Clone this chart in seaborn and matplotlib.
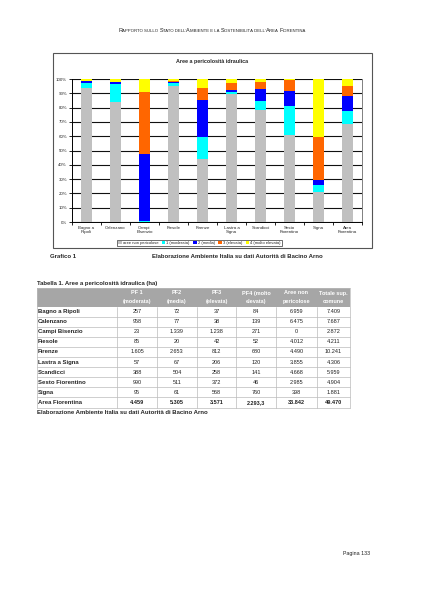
import numpy as np
import pandas as pd
import matplotlib
matplotlib.use("Agg")
import matplotlib.pyplot as plt
import seaborn as sns
from matplotlib.patches import Rectangle, Patch
from matplotlib.lines import Line2D

# ---------------- data ----------------
comuni = ["Bagno a Ripoli", "Calenzano", "Campi Bisenzio", "Fiesole", "Firenze",
          "Lastra a Signa", "Scandicci", "Sesto Fiorentino", "Signa", "Area Fiorentina"]
chart_labels = ["Bagno a\nRipoli", "Calenzano", "Campi\nBisenzio", "Fiesole", "Firenze",
                "Lastra a\nSigna", "Scandicci", "Sesto\nFiorentino", "Signa", "Area\nFiorentina"]
pf1 = [257, 958, 23, 85, 1605, 57, 388, 990, 95, 4459]
pf2 = [72, 77, 1339, 20, 2653, 67, 504, 511, 61, 5305]
pf3 = [37, 38, 1238, 42, 812, 206, 258, 372, 568, 3571]
pf4 = [84, 139, 271, 52, 680, 120, 141, 46, 760, 2293.3]
non_pericolose = [6959, 6475, 0, 4012, 4490, 3855, 4668, 2985, 398, 33842]
totale = [7409, 7687, 2872, 4211, 10241, 4306, 5959, 4904, 1881, 49470]

legend_labels = ["aree non pericolose", "1 (moderata)", "2 (media)", "3 (elevata)", "4 (molto elevata)"]
layer_colors = ["#C0C0C0", "#00FFFF", "#0000FF", "#FF6600", "#FFFF00"]
yticks = [0, 10, 20, 30, 40, 50, 60, 70, 80, 90, 100]
ytick_labels = [f"{v}%" for v in yticks]

table_headers = [("PF 1", "(moderata)"), ("PF2", "(media)"), ("PF3", "(elevata)"),
                 ("PF4 (molto", "elevata)"), ("Aree non", "pericolose"), ("Totale sup.", "comune")]

header_text = "Rapporto sullo Stato dell'Ambiente e la Sostenibilità dell'Area Fiorentina"
chart_title = "Aree a pericolosità idraulica"
source_text = "Elaborazione Ambiente Italia su dati Autorità di Bacino Arno"
table_title = "Tabella 1. Aree a pericolosità idraulica (ha)"

# ---------------- figure ----------------
W, H = 424, 599
sns.set_style("white")
plt.rcParams["font.family"] = ["Liberation Sans", "DejaVu Sans"]
fig = plt.figure(figsize=(W / 100, H / 100), dpi=100)
fig.patch.set_facecolor("white")


def fbox(x0, y0, x1, y1):
    return [x0 / W, 1 - y1 / H, (x1 - x0) / W, (y1 - y0) / H]


# overlay for page text / table
ov = fig.add_axes([0, 0, 1, 1])
ov.set_xlim(0, W)
ov.set_ylim(H, 0)
ov.axis("off")

# page header in small caps
renderer = fig.canvas.get_renderer()
segs = []
for ch in header_text:
    big = ch.isupper()
    s = ch.upper()
    if segs and segs[-1][1] == big:
        segs[-1][0] += s
    else:
        segs.append([s, big])
big_fs, small_fs = 4.0, 3.1
pieces = []
total_w = 0
for s, big in segs:
    t = ov.text(0, 32.5, s, ha="left", va="baseline", fontsize=big_fs if big else small_fs,
                color="#222222")
    bb = t.get_window_extent(renderer)
    w = bb.width  # pixels == data units here
    pieces.append((t, w))
    total_w += w
x = 212 - total_w / 2
for t, w in pieces:
    t.set_x(x)
    x += w

# chart frame
ov.add_patch(Rectangle((52.5, 52.5), 319.5, 195, fill=False, edgecolor="#555555", lw=0.8))
ov.text(212, 62, chart_title, ha="center", va="center", fontsize=3.9, fontweight="bold")

# ---------------- chart ----------------
layers = [non_pericolose, pf1, pf2, pf3, pf4]
tot = np.sum(np.array(layers, dtype=float), axis=0)
perc = [np.array(l, dtype=float) / tot * 100 for l in layers]
cum = np.cumsum(perc, axis=0)

ax = fig.add_axes(fbox(72, 79, 362, 222))
df = pd.DataFrame({"comune": chart_labels})
for i in range(4, -1, -1):
    df["v"] = cum[i]
    sns.barplot(data=df, x="comune", y="v", order=chart_labels, color=layer_colors[i],
                saturation=1, width=0.4, ax=ax, edgecolor="none", linewidth=0, zorder=3)

ax.set_ylim(0, 100)
ax.set_xlim(-0.5, 9.5)
ax.set_yticks(yticks)
ax.set_yticklabels(ytick_labels, fontsize=3.2)
ax.set_xticks(range(10))
ax.set_xticklabels(chart_labels, fontsize=3.2, linespacing=1.0)
ax.set_xticks(np.arange(-0.5, 10, 1), minor=True)
ax.tick_params(axis="x", which="major", length=0, pad=3)
ax.tick_params(axis="x", which="minor", length=2.5, width=0.6, direction="out", color="black", bottom=True)
ax.tick_params(axis="y", length=2.5, width=0.6, direction="out", color="black", left=True, pad=1)
ax.set_xlabel("")
ax.set_ylabel("")
ax.yaxis.grid(True, color="#111111", lw=0.8, zorder=0)
ax.set_axisbelow(True)
for s in ["left", "bottom"]:
    ax.spines[s].set_color("black")
    ax.spines[s].set_linewidth(0.7)
ax.spines["top"].set_visible(False)
ax.spines["right"].set_color("#808080")
ax.spines["right"].set_linewidth(0.7)

handles = [Patch(facecolor=c, edgecolor="none") for c in layer_colors]
leg = fig.legend(handles, legend_labels, loc="center", bbox_to_anchor=(199.5 / W, 1 - 243 / H),
                 ncol=5, fontsize=3.0, frameon=True, fancybox=False, handlelength=0.8,
                 handleheight=0.8, handletextpad=0.3, columnspacing=0.8, borderpad=0.3,
                 borderaxespad=0)
leg.get_frame().set_edgecolor("black")
leg.get_frame().set_linewidth(0.5)

# captions under chart
ov.text(50, 257, "Grafico 1", ha="left", va="center", fontsize=4.3, fontweight="bold")
ov.text(152, 257, source_text, ha="left", va="center", fontsize=4.3, fontweight="bold")

# ---------------- table ----------------
ov.text(37, 284, table_title, ha="left", va="center", fontsize=4.3, fontweight="bold")

col_edges = [37, 117, 157, 197, 236, 276, 317, 350]
hdr_top, hdr_bot = 288, 306.5
row_h = 10.1
ov.add_patch(Rectangle((col_edges[0], hdr_top), col_edges[-1] - col_edges[0], hdr_bot - hdr_top,
                       facecolor="#A6A6A6", edgecolor="none"))
for j, (l1, l2) in enumerate(table_headers):
    cx = (col_edges[j + 1] + col_edges[j + 2]) / 2
    ov.text(cx, 293, l1, ha="center", va="center", fontsize=4.0, fontweight="bold", color="white")
    ov.text(cx, 301.5, l2, ha="center", va="center", fontsize=4.0, fontweight="bold", color="white")


def fmt_it(v):
    if float(v).is_integer():
        return f"{int(v):,}".replace(",", ".")
    ip = int(v)
    dec = round((v - ip) * 10)
    return f"{ip:,}".replace(",", ".") + f",{dec}"


cols = [pf1, pf2, pf3, pf4, non_pericolose, totale]
n = len(comuni)
for i in range(n):
    y0 = hdr_bot + i * row_h
    yc = y0 + row_h / 2
    bold = (i == n - 1)
    ov.text(col_edges[0] + 1, yc, comuni[i], ha="left", va="center", fontsize=4.3, fontweight="bold")
    for j, c in enumerate(cols):
        cx = (col_edges[j + 1] + col_edges[j + 2]) / 2
        ov.text(cx, yc, fmt_it(c[i]), ha="center", va="center", fontsize=4.0,
                fontweight="bold" if bold else "normal", color="#222222")
    ov.add_line(Line2D([col_edges[0], col_edges[-1]], [y0 + row_h, y0 + row_h], color="#BBBBBB", lw=0.5))

tbl_bot = hdr_bot + n * row_h
for x in col_edges:
    ov.add_line(Line2D([x, x], [hdr_top if x in (col_edges[0], col_edges[-1]) else hdr_bot, tbl_bot],
                       color="#BBBBBB", lw=0.5))
ov.add_line(Line2D([col_edges[0], col_edges[-1]], [hdr_top, hdr_top], color="#BBBBBB", lw=0.5))

ov.text(37, tbl_bot + 4.5, source_text, ha="left", va="center", fontsize=4.3, fontweight="bold")

# page number
ov.text(343, 553, "Pagina 133", ha="left", va="center", fontsize=3.8, color="#222222")

fig.savefig("out.png", dpi=100, facecolor="white")
